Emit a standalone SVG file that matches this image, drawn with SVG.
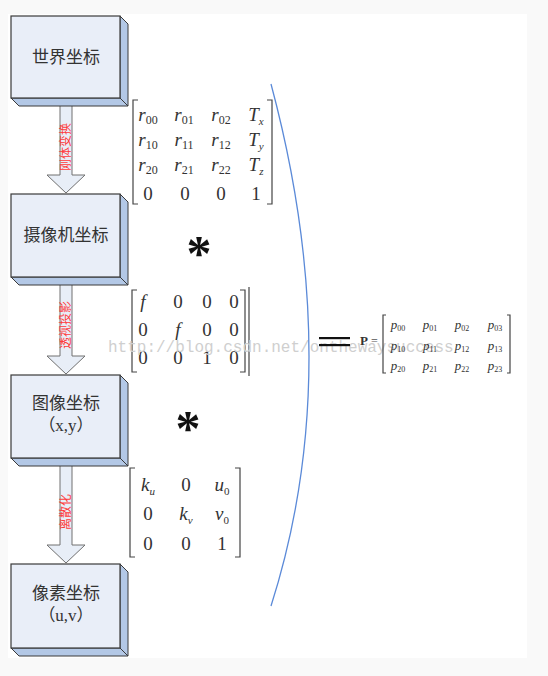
<svg xmlns="http://www.w3.org/2000/svg" width="548" height="676" viewBox="0 0 548 676">
<defs>
<style>
.front{fill:#e9eef8;stroke:#3a3a3a;stroke-width:1.2}
.side{fill:#b3c8e6;stroke:#3a3a3a;stroke-width:1}
.arrow{fill:#e8eef7;stroke:#707070;stroke-width:1}
.lbl{font-family:"Liberation Serif","Noto Sans CJK SC",serif;font-size:17px;fill:#333;text-anchor:middle}
.red{font-family:"Liberation Serif","Noto Sans CJK SC",serif;font-size:12px;fill:#ff3b3b;text-anchor:middle}
.m{font-family:"Liberation Serif",serif;font-size:19px;fill:#333;text-anchor:middle}
.mp{font-family:"Liberation Serif",serif;font-size:13px;fill:#333;text-anchor:middle}
.br{fill:none;stroke:#444;stroke-width:1.2}
.it{font-style:italic}
</style>
</defs>
<rect x="0" y="0" width="548" height="676" fill="#f9f9f9"/>
<rect x="8" y="14" width="519" height="644" fill="#ffffff"/>

<g id="connectors">
<g id="arrow1">
<polygon class="arrow" points="60,104 72,104 72,175 85,175 66,193 47,175 60,175"/>
<text class="red" transform="translate(70,147) rotate(-90)">刚体变换</text>
</g>
<g id="arrow2">
<polygon class="arrow" points="60,283 72,283 72,356 85,356 66,374 47,356 60,356"/>
<text class="red" transform="translate(70,325) rotate(-90)">透视投影</text>
</g>
<g id="arrow3">
<polygon class="arrow" points="60,465 72,465 72,545 85,545 66,563 47,545 60,545"/>
<text class="red" transform="translate(70,512) rotate(-90)">离散化</text>
</g>
</g>

<g id="world">
<polygon class="side" points="120,16 128,24 128,106 120,98"/>
<polygon class="side" points="11,98 120,98 128,106 19,106"/>
<rect class="front" x="11" y="16" width="109" height="82"/>
<text class="lbl" x="66" y="63">世界坐标</text>
</g>
<g id="camera">
<polygon class="side" points="120,194 128,202 128,285 120,277"/>
<polygon class="side" points="11,277 120,277 128,285 19,285"/>
<rect class="front" x="11" y="194" width="109" height="83"/>
<text class="lbl" x="66" y="241">摄像机坐标</text>
</g>
<g id="image">
<polygon class="side" points="120,375 128,383 128,466 120,458"/>
<polygon class="side" points="11,458 120,458 128,466 19,466"/>
<rect class="front" x="11" y="375" width="109" height="83"/>
<text class="lbl" x="66" y="409">图像坐标</text>
<text class="lbl" x="66" y="431">（x,y）</text>
</g>
<g id="pixel">
<polygon class="side" points="120,564 128,572 128,656 120,648"/>
<polygon class="side" points="11,648 120,648 128,656 19,656"/>
<rect class="front" x="11" y="564" width="109" height="84"/>
<text class="lbl" x="66" y="599">像素坐标</text>
<text class="lbl" x="66" y="621">（u,v）</text>
</g>

<g id="matrix-rt">
<path class="br" d="M138,100 H133 V204 H138"/>
<path class="br" d="M267,100 H272 V204 H267"/>
<text class="m" x="148" y="121"><tspan class="it">r</tspan><tspan font-size="12" dy="3">00</tspan></text>
<text class="m" x="184" y="121"><tspan class="it">r</tspan><tspan font-size="12" dy="3">01</tspan></text>
<text class="m" x="221" y="121"><tspan class="it">r</tspan><tspan font-size="12" dy="3">02</tspan></text>
<text class="m" x="256" y="121"><tspan class="it">T</tspan><tspan class="it" font-size="11" dy="4">x</tspan></text>
<text class="m" x="148" y="146"><tspan class="it">r</tspan><tspan font-size="12" dy="3">10</tspan></text>
<text class="m" x="184" y="146"><tspan class="it">r</tspan><tspan font-size="12" dy="3">11</tspan></text>
<text class="m" x="221" y="146"><tspan class="it">r</tspan><tspan font-size="12" dy="3">12</tspan></text>
<text class="m" x="256" y="146"><tspan class="it">T</tspan><tspan class="it" font-size="11" dy="4">y</tspan></text>
<text class="m" x="148" y="171"><tspan class="it">r</tspan><tspan font-size="12" dy="3">20</tspan></text>
<text class="m" x="184" y="171"><tspan class="it">r</tspan><tspan font-size="12" dy="3">21</tspan></text>
<text class="m" x="221" y="171"><tspan class="it">r</tspan><tspan font-size="12" dy="3">22</tspan></text>
<text class="m" x="256" y="171"><tspan class="it">T</tspan><tspan class="it" font-size="11" dy="4">z</tspan></text>
<text class="m" x="148" y="200">0</text>
<text class="m" x="185" y="200">0</text>
<text class="m" x="221" y="200">0</text>
<text class="m" x="256" y="200">1</text>
</g>

<text id="star1" x="199" y="270" font-family="Liberation Serif,serif" font-weight="bold" font-size="50" fill="#111" text-anchor="middle">*</text>

<g id="matrix-f">
<path class="br" d="M137,290 H132 V372 H137"/>
<path class="br" d="M240,290 H245 V372 H240"/>
<path class="br" d="M249,287 V376"/>
<text class="m" x="143" y="308" font-style="italic">f</text>
<text class="m" x="178" y="308">0</text>
<text class="m" x="207" y="308">0</text>
<text class="m" x="234" y="308">0</text>
<text class="m" x="143" y="336">0</text>
<text class="m" x="178" y="336" font-style="italic">f</text>
<text class="m" x="207" y="336">0</text>
<text class="m" x="234" y="336">0</text>
<text class="m" x="143" y="364">0</text>
<text class="m" x="178" y="364">0</text>
<text class="m" x="207" y="364">1</text>
<text class="m" x="234" y="364">0</text>
</g>

<text id="star2" x="188" y="445" font-family="Liberation Serif,serif" font-weight="bold" font-size="50" fill="#111" text-anchor="middle">*</text>

<g id="matrix-k">
<path class="br" d="M135,468 H130 V557 H135"/>
<path class="br" d="M235,468 H240 V557 H235"/>
<text class="m" x="148" y="491"><tspan class="it">k</tspan><tspan class="it" font-size="11" dy="4">u</tspan></text>
<text class="m" x="186" y="491">0</text>
<text class="m" x="222" y="491"><tspan class="it">u</tspan><tspan font-size="11" dy="4">0</tspan></text>
<text class="m" x="148" y="520">0</text>
<text class="m" x="186" y="520"><tspan class="it">k</tspan><tspan class="it" font-size="11" dy="4">v</tspan></text>
<text class="m" x="222" y="520"><tspan class="it">v</tspan><tspan font-size="11" dy="4">0</tspan></text>
<text class="m" x="148" y="550">0</text>
<text class="m" x="186" y="550">0</text>
<text class="m" x="222" y="550">1</text>
</g>

<text id="watermark" x="108" y="352" font-family="Liberation Mono,monospace" font-size="16" fill="#cfcfcf">http://blog.csdn.net/onthewaysuccess</text>

<path id="brace" d="M271,84 Q347,368 271,606" fill="none" stroke="#5b8ad8" stroke-width="1.3"/>

<g id="equals">
<rect x="319" y="337" width="31" height="2.2" fill="#111"/>
<rect x="319" y="344" width="31" height="2.2" fill="#111"/>
</g>

<g id="matrix-p">
<text x="360" y="345" font-family="Liberation Serif,serif" font-weight="bold" font-size="13" fill="#333">P</text>
<text x="371" y="345" font-family="Liberation Serif,serif" font-size="12" fill="#555">=</text>
<path class="br" d="M386,315 H383 V373 H386"/>
<path class="br" d="M507,315 H510 V373 H507"/>
<text class="mp" x="398" y="329"><tspan class="it">p</tspan><tspan font-size="8" dy="2">00</tspan></text>
<text class="mp" x="430" y="329"><tspan class="it">p</tspan><tspan font-size="8" dy="2">01</tspan></text>
<text class="mp" x="462" y="329"><tspan class="it">p</tspan><tspan font-size="8" dy="2">02</tspan></text>
<text class="mp" x="495" y="329"><tspan class="it">p</tspan><tspan font-size="8" dy="2">03</tspan></text>
<text class="mp" x="398" y="350"><tspan class="it">p</tspan><tspan font-size="8" dy="2">10</tspan></text>
<text class="mp" x="430" y="350"><tspan class="it">p</tspan><tspan font-size="8" dy="2">11</tspan></text>
<text class="mp" x="462" y="350"><tspan class="it">p</tspan><tspan font-size="8" dy="2">12</tspan></text>
<text class="mp" x="495" y="350"><tspan class="it">p</tspan><tspan font-size="8" dy="2">13</tspan></text>
<text class="mp" x="398" y="370"><tspan class="it">p</tspan><tspan font-size="8" dy="2">20</tspan></text>
<text class="mp" x="430" y="370"><tspan class="it">p</tspan><tspan font-size="8" dy="2">21</tspan></text>
<text class="mp" x="462" y="370"><tspan class="it">p</tspan><tspan font-size="8" dy="2">22</tspan></text>
<text class="mp" x="495" y="370"><tspan class="it">p</tspan><tspan font-size="8" dy="2">23</tspan></text>
</g>
</svg>
